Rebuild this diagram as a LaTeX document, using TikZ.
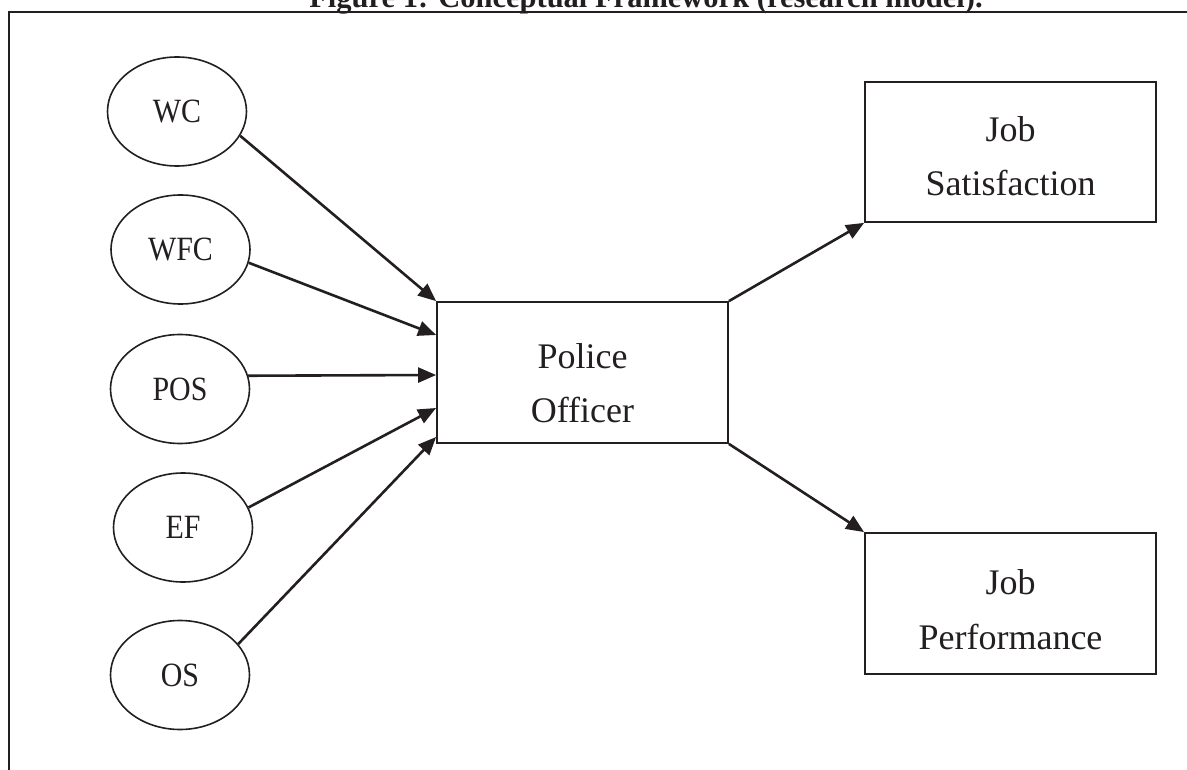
\documentclass[tikz,border=0pt]{standalone}
\usepackage{fontspec}
\setmainfont{Liberation Serif}
\usepackage{graphicx}
\usetikzlibrary{shapes.geometric,arrows.meta}
\definecolor{ink}{RGB}{35,31,32}

\begin{document}
\begin{tikzpicture}[x=1pt,y=-1pt,
  construct/.style={ellipse, draw=ink, line width=1.6pt, minimum width=139pt,
    minimum height=109pt, inner sep=0pt, text=ink,
    font=\fontsize{34}{40}\selectfont},
  stagebox/.style={rectangle, draw=ink, line width=1.8pt, minimum width=291pt,
    minimum height=141pt, inner sep=0pt},
  boxtext/.style={align=center, text=ink, inner sep=0pt,
    font=\fontsize{36}{54.4}\selectfont},
  link/.style={draw=ink, line width=2.6pt, -{Triangle[length=18pt,width=15pt]}}
]
\useasboundingbox (0,0) rectangle (1187,770);
\clip (0,0) rectangle (1187,770);

% caption and the open frame around the model
\node[anchor=base, inner sep=0pt, text=ink,
      font=\fontsize{30.5}{36}\selectfont\bfseries] (title) at (646,8)
  {Figure 1: Conceptual Framework (research model).};
\draw[ink, line width=2pt] (9,780) -- (9,12.5) -- (1200,12.5);

% antecedents
\node[construct] (wc)  at (177,111.5) {\scalebox{0.88}[1]{WC}};
\node[construct] (wfc) at (180.5,249.5) {\scalebox{0.88}[1]{WFC}};
\node[construct] (pos) at (180,389) {\scalebox{0.88}[1]{POS}};
\node[construct] (ef)  at (183,527.5) {\scalebox{0.88}[1]{EF}};
\node[construct] (os)  at (180,675) {\scalebox{0.88}[1]{OS}};

% central construct and outcomes
\node[stagebox] (po) at (582.5,372.5) {};
\node[stagebox, minimum height=140pt] (js) at (1010.5,152) {};
\node[stagebox] (jp) at (1010.5,603.5) {};

\node[boxtext] (polbl) at ([yshift=-10.5pt]po.center) {Police\\Officer};
\node[boxtext] (jslbl) at ([yshift=-4pt]js.center) {Job\\Satisfaction};
\node[boxtext] (jplbl) at ([yshift=-6pt]jp.center) {Job\\Performance};

% entry points on the left side of the central box
\coordinate (in2) at ([yshift=37.5pt]po.west);
\coordinate (in3) at ([yshift=-2.5pt]po.west);
\coordinate (in4) at ([yshift=-35.5pt]po.west);
\coordinate (in5) at ([yshift=-64.5pt]po.west);

% paths
\draw[link] (wc.-21)    -- (po.north west);
\draw[link] (wfc.-11)   -- (in2);
\draw[link] (pos.11)    -- (in3);
\draw[link] (ef.17.5)   -- (in4);
\draw[link] (os.28.5)   -- (in5);
\draw[link] (po.north east) -- (js.south west);
\draw[link] (po.south east) -- (jp.north west);
\end{tikzpicture}
\end{document}
